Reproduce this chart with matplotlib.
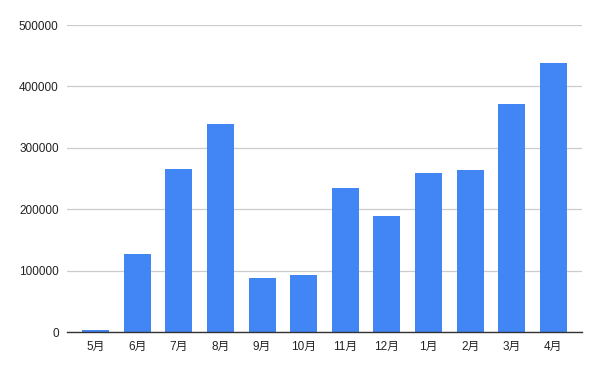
import matplotlib
matplotlib.use("Agg")
import matplotlib.pyplot as plt

months = ["5月", "6月", "7月", "8月", "9月", "10月", "11月", "12月", "1月", "2月", "3月", "4月"]
values = [4000, 127000, 266000, 339000, 88500, 93000, 235000, 189000, 259000, 264000, 371500, 438500]
yticks = [0, 100000, 200000, 300000, 400000, 500000]

plt.rcParams['font.family'] = ['Liberation Sans', 'Noto Sans CJK SC', 'DejaVu Sans']

fig = plt.figure(figsize=(6, 3.71), dpi=100)
ax = fig.add_axes([0.1117, 0.1043, 0.8583, 0.8283])
x = list(range(len(months)))
ax.bar(x, values, width=0.65, color="#4285F4", zorder=3)
ax.set_xlim(-0.69, 11.69)
ax.set_ylim(0, 500000)
ax.set_yticks(yticks)
ax.set_yticklabels([str(v) for v in yticks])
ax.set_xticks(x)
ax.set_xticklabels(months)
ax.yaxis.grid(True, color="#cccccc", linewidth=0.9, zorder=0)
for s in ["top", "right", "left"]:
    ax.spines[s].set_visible(False)
ax.spines["bottom"].set_color("#333333")
ax.spines["bottom"].set_linewidth(1.0)
ax.spines["bottom"].set_zorder(4)
ax.tick_params(axis="both", length=0, labelsize=8.5, colors="#222222")
ax.tick_params(axis="y", pad=6)
ax.tick_params(axis="x", pad=6)
fig.savefig("out.png", dpi=100, facecolor="white")
